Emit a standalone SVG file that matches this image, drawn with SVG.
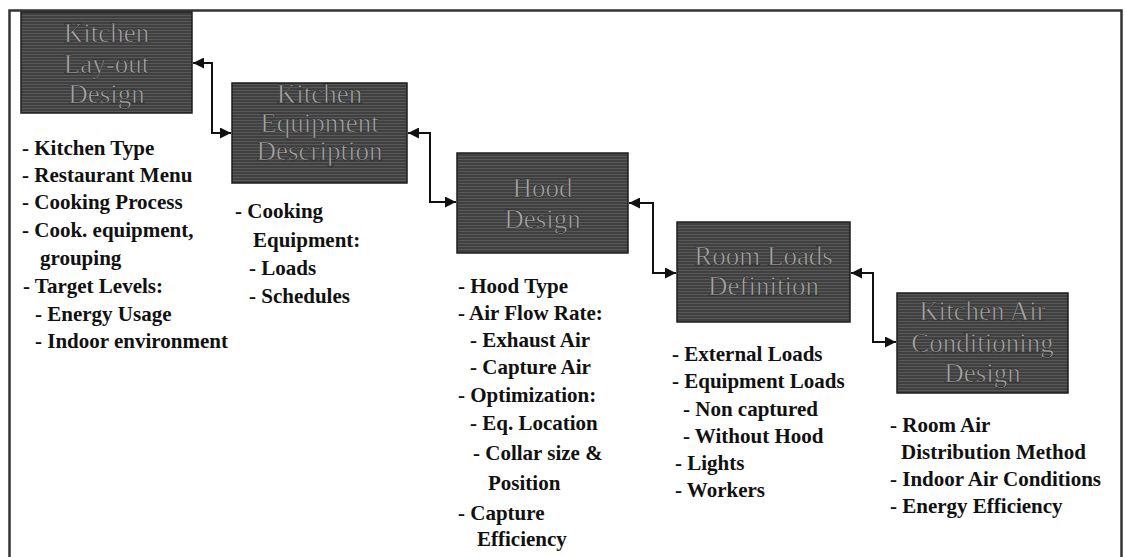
<svg xmlns="http://www.w3.org/2000/svg" width="1125" height="557" viewBox="0 0 1125 557">
<style>
.box{fill:url(#tex);stroke:#1e1e1e;stroke-width:1.5}
.bt{font-family:"Liberation Serif",serif;font-size:27px;fill:#a6a6a6;stroke:#1a1a1a;stroke-width:0.5;text-anchor:middle}
.lt{font-family:"Liberation Serif",serif;font-size:21px;font-weight:bold;fill:#111}
.con{fill:none;stroke:#111;stroke-width:2;marker-start:url(#ah);marker-end:url(#ah)}
.frame{fill:none;stroke:#333;stroke-width:2.5}
</style>
<defs>
<pattern id="tex" width="8" height="3" patternUnits="userSpaceOnUse">
<rect width="8" height="3" fill="#404040"/>
<rect y="0" width="8" height="1" fill="#595959"/>
</pattern>
<marker id="ah" viewBox="0 0 10 10" refX="10" refY="5" markerWidth="6.5" markerHeight="5.5" orient="auto-start-reverse" markerUnits="strokeWidth">
<path d="M0,0 L10,5 L0,10 z" fill="#111"/>
</marker>
</defs>
<rect width="1125" height="557" fill="#fff"/>
<path class="frame" d="M9.5,557 V10.5 H1121.5 V557"/>
<g id="connectors">
<path class="con" d="M193,63 H212 V133 H231"/>
<path class="con" d="M408,133 H430 V202 H456"/>
<path class="con" d="M629,203 H653 V273 H676"/>
<path class="con" d="M851,273 H873 V342 H896"/>
</g>
<g id="kitchen-layout">
<rect class="box" x="21" y="12" width="171" height="101"/>
<text class="bt" x="106.5" y="42">Kitchen</text>
<text class="bt" x="106.5" y="73">Lay-out</text>
<text class="bt" x="106.5" y="103">Design</text>
<text class="lt" x="22" y="155">- Kitchen Type</text>
<text class="lt" x="22" y="182">- Restaurant Menu</text>
<text class="lt" x="22" y="209">- Cooking Process</text>
<text class="lt" x="22" y="237">- Cook. equipment,</text>
<text class="lt" x="40" y="265">grouping</text>
<text class="lt" x="23" y="293">- Target Levels:</text>
<text class="lt" x="35" y="321">- Energy Usage</text>
<text class="lt" x="35" y="348">- Indoor environment</text>
</g>
<g id="kitchen-equipment">
<rect class="box" x="232" y="83" width="175" height="100"/>
<text class="bt" x="319.5" y="103">Kitchen</text>
<text class="bt" x="319.5" y="132">Equipment</text>
<text class="bt" x="319.5" y="160">Description</text>
<text class="lt" x="235" y="218">- Cooking</text>
<text class="lt" x="253" y="247">Equipment:</text>
<text class="lt" x="249" y="275">- Loads</text>
<text class="lt" x="249" y="303">- Schedules</text>
</g>
<g id="hood-design">
<rect class="box" x="457" y="153" width="171" height="100"/>
<text class="bt" x="542.5" y="197">Hood</text>
<text class="bt" x="542.5" y="228">Design</text>
<text class="lt" x="458" y="293">-  Hood Type</text>
<text class="lt" x="458" y="320">- Air Flow Rate:</text>
<text class="lt" x="470" y="347">- Exhaust Air</text>
<text class="lt" x="470" y="374">- Capture Air</text>
<text class="lt" x="458" y="402">- Optimization:</text>
<text class="lt" x="470" y="430">- Eq. Location</text>
<text class="lt" x="473" y="460">- Collar size &amp;</text>
<text class="lt" x="488" y="490">Position</text>
<text class="lt" x="458" y="520">- Capture</text>
<text class="lt" x="477" y="546">Efficiency</text>
</g>
<g id="room-loads">
<rect class="box" x="677" y="222" width="173" height="100"/>
<text class="bt" x="763.5" y="265">Room Loads</text>
<text class="bt" x="763.5" y="295">Definition</text>
<text class="lt" x="672" y="361">-  External Loads</text>
<text class="lt" x="672" y="388">-  Equipment Loads</text>
<text class="lt" x="683" y="416">- Non captured</text>
<text class="lt" x="683" y="443">- Without Hood</text>
<text class="lt" x="675" y="470">- Lights</text>
<text class="lt" x="675" y="497">- Workers</text>
</g>
<g id="kitchen-air-conditioning">
<rect class="box" x="897" y="293" width="171" height="100"/>
<text class="bt" x="982.5" y="320">Kitchen Air</text>
<text class="bt" x="982.5" y="352">Conditioning</text>
<text class="bt" x="982.5" y="382">Design</text>
<text class="lt" x="890" y="432">- Room Air</text>
<text class="lt" x="901" y="459">Distribution Method</text>
<text class="lt" x="890" y="486">- Indoor Air Conditions</text>
<text class="lt" x="890" y="513">- Energy Efficiency</text>
</g>
</svg>
